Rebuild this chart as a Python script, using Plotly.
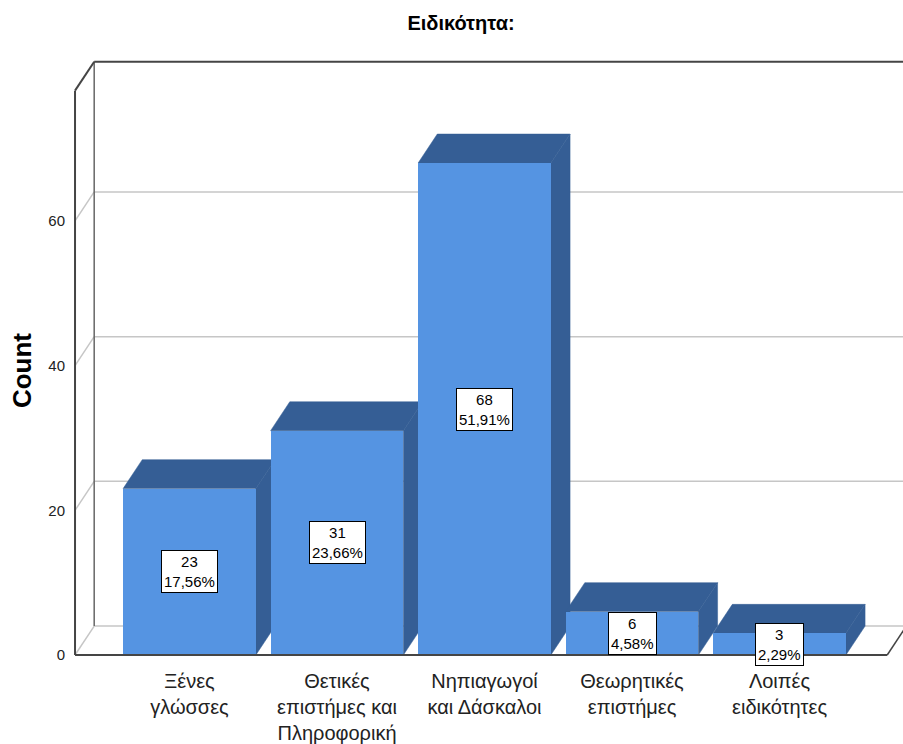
import plotly.graph_objects as go

# ---- data -------------------------------------------------------------
categories = [
    "Ξένες<br>γλώσσες",
    "Θετικές<br>επιστήμες και<br>Πληροφορική",
    "Νηπιαγωγοί<br>και Δάσκαλοι",
    "Θεωρητικές<br>επιστήμες",
    "Λοιπές<br>ειδικότητες",
]
counts = [23, 31, 68, 6, 3]
y_ticks = [0, 20, 40, 60]

total = sum(counts)
percents = [c / total * 100 for c in counts]
labels = [f"{c}<br>{p:.2f}%".replace(".", ",") for c, p in zip(counts, percents)]

# ---- styling / 3-D box geometry (data units) -------------------------
FRONT = "#5594E2"
SHADE = "#355E95"
FRAME = "#454545"
GRID = "#c6c6c6"
FONT = "Liberation Sans, Arial, sans-serif"

BAR_W = 0.9      # bar width in category units
DX = 0.13        # depth offset along x (category units)
DY = 4.0         # depth offset along y (count units)
BOX_TOP = 78     # height of the frame
X_LEFT = -0.776  # front-left edge of the floor
X_RIGHT = 4.73   # front-right edge of the floor

xs = list(range(len(counts)))


def seg(x0, y0, x1, y1, color, width, layer="below"):
    return dict(type="line", xref="x", yref="y", x0=x0, y0=y0, x1=x1, y1=y1,
                line=dict(color=color, width=width), layer=layer)


def poly(pts, color):
    path = "M " + " L ".join(f"{x},{y}" for x, y in pts) + " Z"
    return dict(type="path", xref="x", yref="y", path=path, fillcolor=color,
                line=dict(color=color, width=0.5), layer="below")


shapes = []
# gridlines: diagonal on the left wall, horizontal on the back wall
for t in y_ticks:
    shapes.append(seg(X_LEFT, t, X_LEFT + DX, t + DY, GRID, 1.5))
    shapes.append(seg(X_LEFT + DX, t + DY, X_RIGHT + DX + 0.5, t + DY, GRID, 1.5))
# right floor edge
shapes.append(seg(X_RIGHT, 0, X_RIGHT + DX, DY, FRAME, 1.5))
# back-left vertical edge
shapes.append(seg(X_LEFT + DX, DY, X_LEFT + DX, BOX_TOP + DY, "#666666", 1.5))
# frame: front-left edge, top diagonal, back top edge
shapes.append(seg(X_LEFT, 0, X_LEFT, BOX_TOP, FRAME, 2))
shapes.append(seg(X_LEFT, BOX_TOP, X_LEFT + DX, BOX_TOP + DY, FRAME, 2))
shapes.append(seg(X_LEFT + DX, BOX_TOP + DY, X_RIGHT + DX + 0.5, BOX_TOP + DY, FRAME, 2))

# top and side faces of each bar
for x, v in zip(xs, counts):
    xl, xr = x - BAR_W / 2, x + BAR_W / 2
    shapes.append(poly([(xl, v), (xl + DX, v + DY), (xr + DX, v + DY), (xr, v)], SHADE))
    shapes.append(poly([(xr, 0), (xr, v), (xr + DX, v + DY), (xr + DX, DY)], SHADE))

# front floor edge drawn over the bars
shapes.append(seg(X_LEFT, 0, X_RIGHT, 0, FRAME, 2, layer="above"))

fig = go.Figure()
fig.add_trace(go.Bar(
    x=xs, y=counts, width=BAR_W,
    marker=dict(color=FRONT, line=dict(width=0)),
    hoverinfo="skip",
))

annotations = [
    dict(x=x, y=v / 2, xref="x", yref="y", text=lab, showarrow=False,
         font=dict(family=FONT, size=15, color="#000000"),
         bgcolor="#ffffff", bordercolor="#000000", borderwidth=1, borderpad=2)
    for x, v, lab in zip(xs, counts, labels)
]
annotations.append(dict(
    x=-0.0576, y=0.48, xref="paper", yref="paper", text="<b>Count</b>",
    xanchor="center", yanchor="middle",
    textangle=-90, showarrow=False, font=dict(family=FONT, size=26, color="#000000"),
))

fig.update_layout(
    width=903, height=744,
    margin=dict(l=70, r=0, t=58, b=84),
    paper_bgcolor="#ffffff", plot_bgcolor="#ffffff",
    showlegend=False,
    title=dict(text="<b>Ειδικότητα:</b>", x=461 / 903, xanchor="center",
               y=1 - 23 / 744, yanchor="middle", xref="container", yref="container",
               font=dict(family=FONT, size=20, color="#000000")),
    xaxis=dict(range=[-0.81, 4.837], tickvals=xs, ticktext=categories,
               showgrid=False, zeroline=False, showline=False, ticks="",
               automargin=False, ticklabelstandoff=7,
               tickfont=dict(family=FONT, size=20, color="#222222")),
    yaxis=dict(range=[-0.69, 82.51], tickvals=y_ticks,
               showgrid=False, zeroline=False, showline=False, ticks="",
               automargin=False, ticklabelstandoff=4,
               tickfont=dict(family=FONT, size=15, color="#222222")),
    shapes=shapes,
    annotations=annotations,
    bargap=0,
)

fig.write_html("out.html")
